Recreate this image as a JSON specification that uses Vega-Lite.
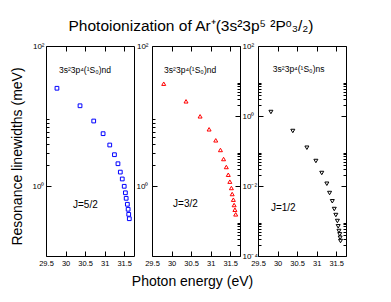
{
  "$schema": "https://vega.github.io/schema/vega-lite/v6.json",
  "padding": {"left": 9, "top": 18, "right": 5, "bottom": 5},
  "bounds": "flush",
  "spacing": 18,
  "config": {
    "font": "Liberation Sans",
    "view": {"stroke": "black", "strokeWidth": 1},
    "axis": {"domain": false, "grid": false, "tickColor": "black", "tickWidth": 1, "labelFont": "Liberation Sans", "labelFontSize": 8, "labelColor": "black", "labelOverlap": false, "labelFlush": false, "titleFont": "Liberation Sans", "titleFontWeight": "normal", "titleColor": "black"}
  },
  "datasets": {
    "j52": [{"E":29.78,"W":24.9},{"E":30.37,"W":14.0},{"E":30.72,"W":8.48},{"E":30.96,"W":5.59},{"E":31.13,"W":3.85},{"E":31.25,"W":2.80},{"E":31.34,"W":2.08},{"E":31.40,"W":1.58},{"E":31.45,"W":1.26},{"E":31.50,"W":0.99},{"E":31.53,"W":0.80},{"E":31.55,"W":0.667},{"E":31.58,"W":0.548},{"E":31.60,"W":0.465},{"E":31.615,"W":0.394},{"E":31.63,"W":0.341}],
    "j32": [{"E":29.80,"W":8.37},{"E":30.37,"W":2.63},{"E":30.73,"W":0.98},{"E":30.96,"W":0.417},{"E":31.13,"W":0.202},{"E":31.25,"W":0.107},{"E":31.33,"W":0.059},{"E":31.40,"W":0.0349},{"E":31.45,"W":0.0210},{"E":31.49,"W":0.0133},{"E":31.53,"W":0.00877},{"E":31.55,"W":0.0059},{"E":31.58,"W":0.00406},{"E":31.60,"W":0.00286},{"E":31.62,"W":0.0021},{"E":31.64,"W":0.00155}],
    "j12": [{"E":29.83,"W":1.30},{"E":30.39,"W":0.373},{"E":30.75,"W":0.124},{"E":30.98,"W":0.0518},{"E":31.13,"W":0.0235},{"E":31.26,"W":0.0116},{"E":31.33,"W":0.0063},{"E":31.40,"W":0.00366},{"E":31.45,"W":0.0022},{"E":31.49,"W":0.00148},{"E":31.53,"W":0.001},{"E":31.55,"W":0.000706},{"E":31.57,"W":0.000518},{"E":31.59,"W":0.000417},{"E":31.60,"W":0.000333},{"E":31.61,"W":0.000268}]
  },
  "hconcat": [
    {
      "width": 88, "height": 210,
      "layer": [
        {"data": {"name": "j52"}, "mark": {"type": "point", "shape": "square", "filled": false, "color": "#0000ff", "size": 14, "strokeWidth": 1, "opacity": 1},
         "encoding": {
           "x": {"field": "E", "type": "quantitative", "scale": {"domain": [29.5, 31.75], "nice": false, "zero": false}, "axis": {"orient": "bottom", "values": [29.5, 30, 30.5, 31, 31.5], "format": "~g", "tickSize": -5, "labelPadding": 8, "labelFontSize": 7.5, "title": null}},
           "y": {"field": "W", "type": "quantitative", "scale": {"type": "log", "domain": [0.1, 100], "nice": false}, "axis": {"orient": "left", "values": [1, 100], "tickSize": -5, "labelPadding": 7, "labelExpr": "datum.value > 50 ? '10²' : datum.value > 0.5 ? '10⁰' : datum.value > 0.005 ? '10⁻²' : '10⁻⁴'", "title": "Resonance linewidths (meV)", "titleFontSize": 14, "titleX": -29, "titleY": 110, "titleAngle": 270, "titleBaseline": "middle", "titleAlign": "center"}}
         }},
        {"data": {"name": "j52"}, "mark": {"type": "point", "opacity": 0},
         "encoding": {
           "x": {"field": "E", "type": "quantitative", "scale": {"domain": [29.5, 31.75], "nice": false, "zero": false}, "axis": {"orient": "top", "values": [30, 30.5, 31, 31.5], "tickSize": -5, "labels": false, "title": null}},
           "y": {"field": "W", "type": "quantitative", "scale": {"type": "log", "domain": [0.1, 100], "nice": false}, "axis": {"orient": "left", "values": [2, 3, 4, 5, 6, 7, 8, 9], "tickSize": -3, "labels": false, "title": null}}
         }},
        {"data": {"name": "j52"}, "mark": {"type": "point", "opacity": 0},
         "encoding": {
           "x": {"field": "E", "type": "quantitative", "scale": {"domain": [29.5, 31.75], "nice": false, "zero": false}, "axis": null},
           "y": {"field": "W", "type": "quantitative", "scale": {"type": "log", "domain": [0.1, 100], "nice": false}, "axis": {"orient": "right", "offset": 18, "values": [1, 100], "tickSize": 5, "labelPadding": -9, "labelAlign": "right", "labelExpr": "datum.value > 50 ? '10²' : datum.value > 0.5 ? '10⁰' : datum.value > 0.005 ? '10⁻²' : '10⁻⁴'", "title": null}}
         }},
        {"data": {"name": "j52"}, "mark": {"type": "point", "opacity": 0},
         "encoding": {
           "x": {"field": "E", "type": "quantitative", "scale": {"domain": [29.5, 31.75], "nice": false, "zero": false}, "axis": null},
           "y": {"field": "W", "type": "quantitative", "scale": {"type": "log", "domain": [0.1, 100], "nice": false}, "axis": {"orient": "right", "offset": 18, "values": [2, 3, 4, 5, 6, 7, 8, 9], "tickSize": 3, "labels": false, "title": null}}
         }},
        {"data": {"values": [{"E": 29.83, "W": 45.4, "t": "3s²3p⁴(¹S₀)nd"}]}, "mark": {"type": "text", "align": "left", "baseline": "middle", "fontSize": 8.5, "color": "black"},
         "encoding": {
           "x": {"field": "E", "type": "quantitative", "scale": {"domain": [29.5, 31.75], "nice": false, "zero": false}, "axis": null},
           "y": {"field": "W", "type": "quantitative", "scale": {"type": "log", "domain": [0.1, 100], "nice": false}, "axis": null},
           "text": {"field": "t"}
         }},
        {"data": {"values": [{"E": 30.19, "W": 0.535, "t": "J=5/2"}]}, "mark": {"type": "text", "align": "left", "baseline": "middle", "fontSize": 10, "color": "black"},
         "encoding": {
           "x": {"field": "E", "type": "quantitative", "scale": {"domain": [29.5, 31.75], "nice": false, "zero": false}, "axis": null},
           "y": {"field": "W", "type": "quantitative", "scale": {"type": "log", "domain": [0.1, 100], "nice": false}, "axis": null},
           "text": {"field": "t"}
         }}
      ],
      "resolve": {"axis": {"x": "independent", "y": "independent"}}
    },
    {
      "width": 88, "height": 210,
      "title": {"text": "Photoionization of Ar⁺(3s²3p⁵ ²Pᵒ₃/₂)", "anchor": "middle", "fontSize": 15.5, "fontWeight": "normal", "font": "Liberation Sans", "color": "black", "offset": 8, "dx": -5},
      "layer": [
        {"data": {"name": "j32"}, "mark": {"type": "point", "shape": "triangle-up", "filled": false, "color": "#ff0000", "size": 16, "strokeWidth": 1, "opacity": 1},
         "encoding": {
           "x": {"field": "E", "type": "quantitative", "scale": {"domain": [29.5, 31.75], "nice": false, "zero": false}, "axis": {"orient": "bottom", "values": [29.5, 30, 30.5, 31, 31.5], "format": "~g", "tickSize": -5, "labelPadding": 8, "labelFontSize": 7.5, "title": "Photon energy (eV)", "titleFontSize": 14, "titleX": 40, "titleY": 29, "titleBaseline": "alphabetic", "titleAlign": "center"}},
           "y": {"field": "W", "type": "quantitative", "scale": {"type": "log", "domain": [0.0001, 100], "nice": false}, "axis": {"orient": "right", "values": [0.0001, 0.01, 1, 100], "tickSize": -5, "labelPadding": 7, "labelExpr": "datum.value > 50 ? '10²' : datum.value > 0.5 ? '10⁰' : datum.value > 0.005 ? '10⁻²' : '10⁻⁴'", "title": null}}
         }},
        {"data": {"name": "j32"}, "mark": {"type": "point", "opacity": 0},
         "encoding": {
           "x": {"field": "E", "type": "quantitative", "scale": {"domain": [29.5, 31.75], "nice": false, "zero": false}, "axis": {"orient": "top", "values": [30, 30.5, 31, 31.5], "tickSize": -5, "labels": false, "title": null}},
           "y": {"field": "W", "type": "quantitative", "scale": {"type": "log", "domain": [0.0001, 100], "nice": false}, "axis": {"orient": "right", "values": [0.0002, 0.0003, 0.0004, 0.0005, 0.0006, 0.0007, 0.0008, 0.0009, 0.02, 0.03, 0.04, 0.05, 0.06, 0.07, 0.08, 0.09, 2, 3, 4, 5, 6, 7, 8, 9], "tickSize": -3, "labels": false, "title": null}}
         }},
        {"data": {"values": [{"E": 29.81, "W": 20.6, "t": "3s²3p⁴(¹S₀)nd"}]}, "mark": {"type": "text", "align": "left", "baseline": "middle", "fontSize": 8.5, "color": "black"},
         "encoding": {
           "x": {"field": "E", "type": "quantitative", "scale": {"domain": [29.5, 31.75], "nice": false, "zero": false}, "axis": null},
           "y": {"field": "W", "type": "quantitative", "scale": {"type": "log", "domain": [0.0001, 100], "nice": false}, "axis": null},
           "text": {"field": "t"}
         }},
        {"data": {"values": [{"E": 30.04, "W": 0.00306, "t": "J=3/2"}]}, "mark": {"type": "text", "align": "left", "baseline": "middle", "fontSize": 10, "color": "black"},
         "encoding": {
           "x": {"field": "E", "type": "quantitative", "scale": {"domain": [29.5, 31.75], "nice": false, "zero": false}, "axis": null},
           "y": {"field": "W", "type": "quantitative", "scale": {"type": "log", "domain": [0.0001, 100], "nice": false}, "axis": null},
           "text": {"field": "t"}
         }}
      ],
      "resolve": {"axis": {"x": "independent", "y": "independent"}}
    },
    {
      "width": 88, "height": 210,
      "layer": [
        {"data": {"name": "j12"}, "mark": {"type": "point", "shape": "triangle-down", "filled": false, "color": "#000000", "size": 16, "strokeWidth": 1, "opacity": 1},
         "encoding": {
           "x": {"field": "E", "type": "quantitative", "scale": {"domain": [29.5, 31.75], "nice": false, "zero": false}, "axis": {"orient": "bottom", "values": [29.5, 30, 30.5, 31, 31.5], "format": "~g", "tickSize": -5, "labelPadding": 8, "labelFontSize": 7.5, "title": null}},
           "y": {"field": "W", "type": "quantitative", "scale": {"type": "log", "domain": [0.0001, 100], "nice": false}, "axis": {"orient": "left", "values": [0.0001, 0.01, 1, 100], "tickSize": -5, "labels": false, "title": null}}
         }},
        {"data": {"name": "j12"}, "mark": {"type": "point", "opacity": 0},
         "encoding": {
           "x": {"field": "E", "type": "quantitative", "scale": {"domain": [29.5, 31.75], "nice": false, "zero": false}, "axis": {"orient": "top", "values": [30, 30.5, 31, 31.5], "tickSize": -5, "labels": false, "title": null}},
           "y": {"field": "W", "type": "quantitative", "scale": {"type": "log", "domain": [0.0001, 100], "nice": false}, "axis": {"orient": "left", "values": [0.0002, 0.0003, 0.0004, 0.0005, 0.0006, 0.0007, 0.0008, 0.0009, 0.02, 0.03, 0.04, 0.05, 0.06, 0.07, 0.08, 0.09, 2, 3, 4, 5, 6, 7, 8, 9], "tickSize": -3, "labels": false, "title": null}}
         }},
        {"data": {"name": "j12"}, "mark": {"type": "point", "opacity": 0},
         "encoding": {
           "x": {"field": "E", "type": "quantitative", "scale": {"domain": [29.5, 31.75], "nice": false, "zero": false}, "axis": null},
           "y": {"field": "W", "type": "quantitative", "scale": {"type": "log", "domain": [0.0001, 100], "nice": false}, "axis": {"orient": "right", "values": [0.0001, 0.01, 1, 100], "tickSize": -5, "labels": false, "title": null}}
         }},
        {"data": {"name": "j12"}, "mark": {"type": "point", "opacity": 0},
         "encoding": {
           "x": {"field": "E", "type": "quantitative", "scale": {"domain": [29.5, 31.75], "nice": false, "zero": false}, "axis": null},
           "y": {"field": "W", "type": "quantitative", "scale": {"type": "log", "domain": [0.0001, 100], "nice": false}, "axis": {"orient": "right", "values": [0.0002, 0.0003, 0.0004, 0.0005, 0.0006, 0.0007, 0.0008, 0.0009, 0.02, 0.03, 0.04, 0.05, 0.06, 0.07, 0.08, 0.09, 2, 3, 4, 5, 6, 7, 8, 9], "tickSize": -3, "labels": false, "title": null}}
         }},
        {"data": {"values": [{"E": 29.88, "W": 22, "t": "3s²3p⁴(¹S₀)ns"}]}, "mark": {"type": "text", "align": "left", "baseline": "middle", "fontSize": 8.5, "color": "black"},
         "encoding": {
           "x": {"field": "E", "type": "quantitative", "scale": {"domain": [29.5, 31.75], "nice": false, "zero": false}, "axis": null},
           "y": {"field": "W", "type": "quantitative", "scale": {"type": "log", "domain": [0.0001, 100], "nice": false}, "axis": null},
           "text": {"field": "t"}
         }},
        {"data": {"values": [{"E": 29.83, "W": 0.00235, "t": "J=1/2"}]}, "mark": {"type": "text", "align": "left", "baseline": "middle", "fontSize": 10, "color": "black"},
         "encoding": {
           "x": {"field": "E", "type": "quantitative", "scale": {"domain": [29.5, 31.75], "nice": false, "zero": false}, "axis": null},
           "y": {"field": "W", "type": "quantitative", "scale": {"type": "log", "domain": [0.0001, 100], "nice": false}, "axis": null},
           "text": {"field": "t"}
         }}
      ],
      "resolve": {"axis": {"x": "independent", "y": "independent"}}
    }
  ]
}
